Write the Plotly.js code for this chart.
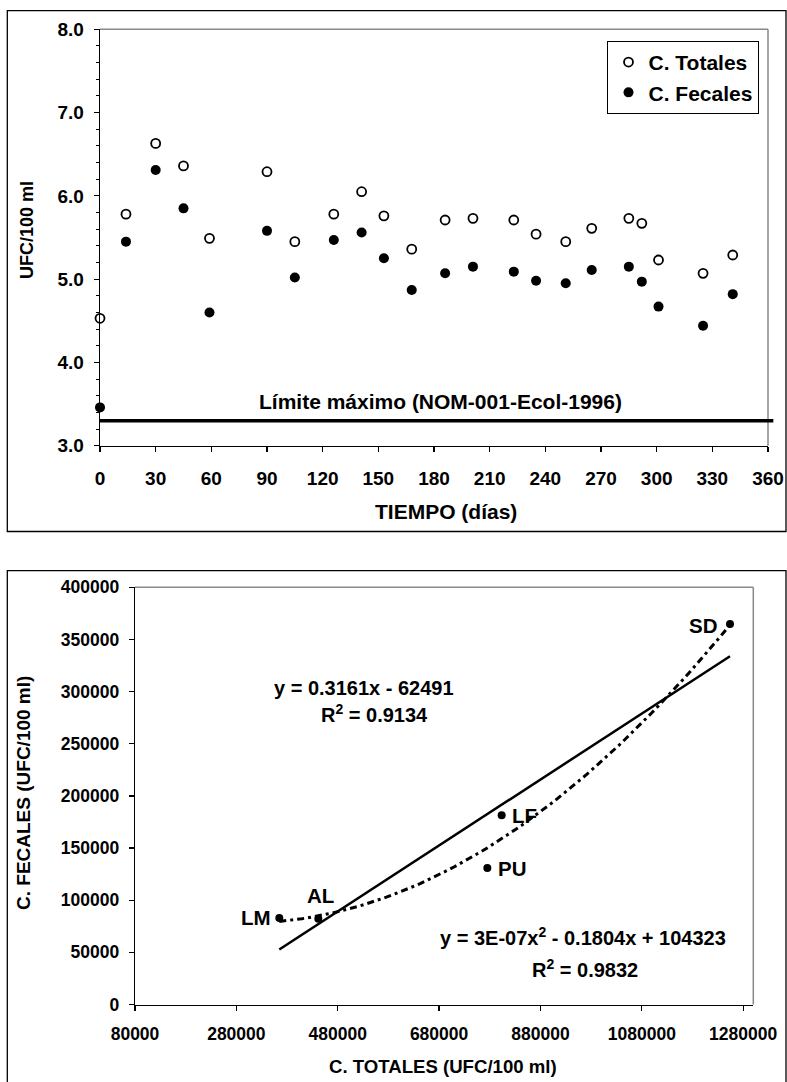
<!DOCTYPE html>
<html>
<head>
<meta charset="utf-8">
<script src="https://cdn.plot.ly/plotly-3.0.1.min.js"></script>
<style>
  html, body { margin: 0; padding: 0; background: #fff; }
  #chart { width: 787px; height: 1082px; }
</style>
</head>
<body>
<div id="chart"></div>
<script>
// ---------- DATA ----------
// Top chart: coliform counts over time (log10 UFC/100 ml)
const tiempoDias = [0, 14, 30, 45, 59, 90, 105, 126, 141, 153, 168, 186, 201, 223, 235, 251, 265, 285, 292, 301, 325, 341];
const cTotales   = [4.53, 5.78, 6.63, 6.36, 5.49, 6.29, 5.45, 5.78, 6.05, 5.76, 5.36, 5.71, 5.73, 5.71, 5.54, 5.45, 5.61, 5.73, 5.67, 5.23, 5.07, 5.29];
const cFecales   = [3.46, 5.45, 6.31, 5.85, 4.60, 5.58, 5.02, 5.47, 5.56, 5.25, 4.87, 5.07, 5.15, 5.09, 4.98, 4.95, 5.11, 5.15, 4.97, 4.67, 4.44, 4.82];
const limiteMaximo = 3.3;
const limiteTexto = 'Límite máximo (NOM-001-Ecol-1996)';
const serieNombres = ['C. Totales', 'C. Fecales'];
const xTicksTop = [0, 30, 60, 90, 120, 150, 180, 210, 240, 270, 300, 330, 360];

// Bottom chart: C. Fecales vs C. Totales per site
const sitios       = ['LM', 'AL', 'LF', 'PU', 'SD'];
const totalesUFC   = [364700, 441700, 803500, 775200, 1254000];
const fecalesUFC   = [82850, 82270, 181400, 130850, 364800];
// Trend line coefficients (as printed; quadratic leading term)
const linSlope = 0.3161, linIntercept = -62491;
const quadA = 3.09e-7, quadB = -0.1804, quadC = 104323;
const linEqText  = 'y = 0.3161x - 62491';
const linR2Text  = 'R<sup>2</sup> = 0.9134';
const quadEqText = 'y = 3E-07x<sup>2</sup> - 0.1804x + 104323';
const quadR2Text = 'R<sup>2</sup> = 0.9832';

// ---------- LAYOUT HELPERS ----------
const W = 787, H = 1082;
const px = x => x / W;
const py = y => 1 - y / H;
const FONT = 'Liberation Sans, Arial, Helvetica, sans-serif';
const bold = (size) => ({ family: FONT, size: size, color: '#000', weight: 700 });

// ---------- TRACES ----------
const xMin = Math.min(...totalesUFC), xMax = Math.max(...totalesUFC);
const linX = [xMin, xMax];
const linY = linX.map(x => linSlope * x + linIntercept);
const quadX = [];
const nQ = 80;
for (let i = 0; i <= nQ; i++) quadX.push(xMin + (xMax - xMin) * i / nQ);
const quadY = quadX.map(x => quadA * x * x + quadB * x + quadC);

const traces = [
  { x: tiempoDias, y: cTotales, name: serieNombres[0], type: 'scatter', mode: 'markers',
    xaxis: 'x', yaxis: 'y', cliponaxis: false,
    marker: { symbol: 'circle', size: 9, color: '#fff', line: { color: '#000', width: 1.8 } } },
  { x: tiempoDias, y: cFecales, name: serieNombres[1], type: 'scatter', mode: 'markers',
    xaxis: 'x', yaxis: 'y', cliponaxis: false,
    marker: { symbol: 'circle', size: 10, color: '#000' } },
  { x: linX, y: linY, type: 'scatter', mode: 'lines', xaxis: 'x2', yaxis: 'y2', showlegend: false,
    line: { color: '#000', width: 2.5 } },
  { x: quadX, y: quadY, type: 'scatter', mode: 'lines', xaxis: 'x2', yaxis: 'y2', showlegend: false,
    line: { color: '#000', width: 3, dash: '7px,4px,3px,4px' } },
  { x: totalesUFC, y: fecalesUFC, type: 'scatter', mode: 'markers', xaxis: 'x2', yaxis: 'y2',
    showlegend: false, cliponaxis: false,
    marker: { symbol: 'circle', size: 8, color: '#000' } }
];

// ---------- ANNOTATIONS ----------
const labelShift = {
  LM: { xanchor: 'right', xshift: -6, yshift: 1 },
  AL: { xanchor: 'center', xshift: 2, yshift: 23 },
  LF: { xanchor: 'left', xshift: 8, yshift: 0 },
  PU: { xanchor: 'left', xshift: 9, yshift: 0 },
  SD: { xanchor: 'right', xshift: -11, yshift: -1 }
};
const annotations = [
  { text: 'UFC/100 ml', xref: 'paper', yref: 'paper', x: px(27), y: py(230), textangle: -90,
    showarrow: false, xanchor: 'center', yanchor: 'middle', font: bold(18) },
  { text: 'TIEMPO (días)', xref: 'paper', yref: 'paper', x: px(445.5), y: py(511.7),
    showarrow: false, xanchor: 'center', yanchor: 'middle', font: bold(21) },
  { text: limiteTexto, xref: 'paper', yref: 'paper', x: px(441), y: py(401.7),
    showarrow: false, xanchor: 'center', yanchor: 'middle', font: bold(21) },
  { text: 'C. FECALES (UFC/100 ml)', xref: 'paper', yref: 'paper', x: px(23), y: py(793), textangle: -90,
    showarrow: false, xanchor: 'center', yanchor: 'middle', font: bold(19) },
  { text: 'C. TOTALES (UFC/100 ml)', xref: 'paper', yref: 'paper', x: px(443.3), y: py(1066.7),
    showarrow: false, xanchor: 'center', yanchor: 'middle', font: bold(18.6) },
  { text: linEqText, xref: 'paper', yref: 'paper', x: px(364), y: py(687.7),
    showarrow: false, xanchor: 'center', yanchor: 'middle', font: bold(20) },
  { text: linR2Text, xref: 'paper', yref: 'paper', x: px(374), y: py(713.3),
    showarrow: false, xanchor: 'center', yanchor: 'middle', font: bold(20) },
  { text: quadEqText, xref: 'paper', yref: 'paper', x: px(583.3), y: py(936.7),
    showarrow: false, xanchor: 'center', yanchor: 'middle', font: bold(20) },
  { text: quadR2Text, xref: 'paper', yref: 'paper', x: px(584.5), y: py(968.3),
    showarrow: false, xanchor: 'center', yanchor: 'middle', font: bold(20) }
];
sitios.forEach((s, i) => {
  const o = labelShift[s];
  annotations.push({ text: s, xref: 'x2', yref: 'y2', x: totalesUFC[i], y: fecalesUFC[i],
    showarrow: false, xanchor: o.xanchor, yanchor: 'middle', xshift: o.xshift, yshift: o.yshift,
    font: bold(20.5) });
});

// ---------- SHAPES ----------
const shapes = [
  // outer frames
  { type: 'rect', xref: 'paper', yref: 'paper', x0: px(7.3), x1: px(786), y0: py(531.5), y1: py(10.7),
    line: { color: '#000', width: 1.3 }, layer: 'below' },
  { type: 'rect', xref: 'paper', yref: 'paper', x0: px(7.3), x1: px(786), y0: py(1090), y1: py(570.7),
    line: { color: '#000', width: 1.3 }, layer: 'below' },
  // gray plot-area borders (top & right)
  { type: 'line', xref: 'x domain', yref: 'y domain', x0: 0, x1: 1, y0: 1, y1: 1, line: { color: '#888', width: 1.5 } },
  { type: 'line', xref: 'x domain', yref: 'y domain', x0: 1, x1: 1, y0: 0, y1: 1, line: { color: '#888', width: 1.5 } },
  { type: 'line', xref: 'x2 domain', yref: 'y2 domain', x0: 0, x1: 1, y0: 1, y1: 1, line: { color: '#888', width: 1.5 } },
  { type: 'line', xref: 'x2 domain', yref: 'y2 domain', x0: 1, x1: 1, y0: 0, y1: 1, line: { color: '#888', width: 1.5 } },
  // limit line
  { type: 'line', xref: 'x domain', yref: 'y', x0: 0, x1: 1.008, y0: limiteMaximo, y1: limiteMaximo,
    line: { color: '#000', width: 3.5 } }
];

const axisCommon = {
  showgrid: false, zeroline: false, showline: true, linecolor: '#000', linewidth: 1.3,
  ticks: 'outside', ticklen: 5, tickwidth: 1.2, tickcolor: '#000', fixedrange: true
};

const layout = {
  width: W, height: H,
  margin: { l: 0, r: 0, t: 0, b: 0 },
  paper_bgcolor: '#fff', plot_bgcolor: '#fff',
  font: { family: FONT, color: '#000' },
  showlegend: true,
  legend: {
    x: px(759.3), xanchor: 'right', y: py(40.7), yanchor: 'top',
    bgcolor: '#fff', bordercolor: '#000', borderwidth: 1.2,
    font: bold(21), itemwidth: 30, tracegroupgap: 0
  },
  xaxis: Object.assign({}, axisCommon, {
    domain: [px(100), px(768)], anchor: 'y', range: [0, 360],
    tickvals: xTicksTop, ticktext: xTicksTop.map(String),
    tickfont: bold(19), ticklabelstandoff: 10
  }),
  yaxis: Object.assign({}, axisCommon, {
    domain: [py(445.7), py(29.3)], anchor: 'x', range: [3, 8], dtick: 1, tick0: 3,
    tickformat: '.1f', tickfont: bold(19), ticklabelstandoff: 6,
    minor: { dtick: 0.2, ticks: 'outside', ticklen: 3, tickcolor: '#000', tickwidth: 1, showgrid: false }
  }),
  xaxis2: Object.assign({}, axisCommon, {
    domain: [px(135), px(753.3)], anchor: 'y2', range: [80000, 1300000],
    tick0: 80000, dtick: 200000, tickformat: 'd',
    tickfont: bold(17.5), ticklabelstandoff: 8
  }),
  yaxis2: Object.assign({}, axisCommon, {
    domain: [py(1004.5), py(587.3)], anchor: 'x2', range: [0, 400000],
    tick0: 0, dtick: 50000, tickformat: 'd',
    tickfont: bold(17.5), ticklabelstandoff: 6
  }),
  annotations: annotations,
  shapes: shapes
};

Plotly.newPlot('chart', traces, layout, { displayModeBar: false, staticPlot: true });
</script>
</body>
</html>
